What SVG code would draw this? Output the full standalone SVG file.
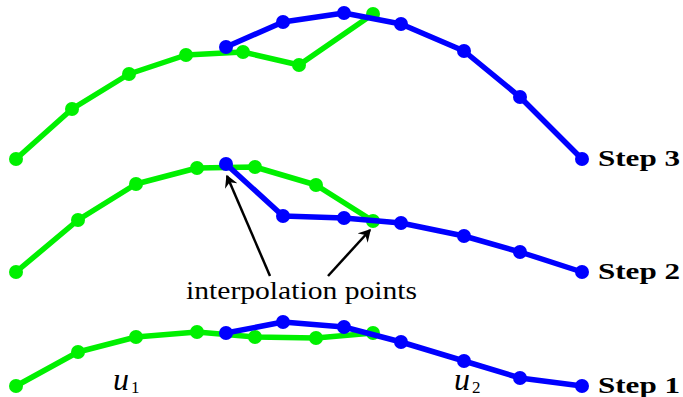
<svg xmlns="http://www.w3.org/2000/svg" width="683" height="397" viewBox="0 0 683 397">
<style>
.g{fill:none;stroke:#00f000;stroke-width:5.5;stroke-linejoin:round}
.b{fill:none;stroke:#0000ff;stroke-width:5.5;stroke-linejoin:round}
.gd{fill:#00f000}
.bd{fill:#0000ff}
.arr{fill:none;stroke:#000;stroke-width:2.5;marker-end:url(#ah)}
</style>
<defs>
<marker id="ah" viewBox="0 0 10 10" refX="8" refY="5" markerWidth="5.5" markerHeight="5.5" orient="auto" markerUnits="strokeWidth">
<path d="M0,0 L9,5 L0,10 L3,5 Z" fill="#000"/>
</marker>
</defs>
<g id="step3">
<g id="step3-green">
<polyline class="g" points="16,159 72,109 129,74 186,55 243,52 299,65 373,14"/>
<g class="gd"><circle cx="16" cy="159" r="7"/><circle cx="72" cy="109" r="7"/><circle cx="129" cy="74" r="7"/><circle cx="186" cy="55" r="7"/><circle cx="243" cy="52" r="7"/><circle cx="299" cy="65" r="7"/><circle cx="373" cy="14" r="7"/></g>
</g>
<g id="step3-blue">
<polyline class="b" points="226,47 283,22 344,13 401,24 464,51 520,97 582,159"/>
<g class="bd"><circle cx="226" cy="47" r="7"/><circle cx="283" cy="22" r="7"/><circle cx="344" cy="13" r="7"/><circle cx="401" cy="24" r="7"/><circle cx="464" cy="51" r="7"/><circle cx="520" cy="97" r="7"/><circle cx="582" cy="159" r="7"/></g>
</g>
<text font-family="Liberation Serif" font-weight="bold" font-size="24" x="598" y="166" textLength="82" lengthAdjust="spacingAndGlyphs">Step 3</text>
</g>
<g id="step2">
<g id="step2-green">
<polyline class="g" points="16,272 78,220 136,184 197,168 255,167 316,185 373,221"/>
<g class="gd"><circle cx="16" cy="272" r="7"/><circle cx="78" cy="220" r="7"/><circle cx="136" cy="184" r="7"/><circle cx="197" cy="168" r="7"/><circle cx="255" cy="167" r="7"/><circle cx="316" cy="185" r="7"/><circle cx="373" cy="221" r="7"/></g>
</g>
<g id="step2-blue">
<polyline class="b" points="226,164 283,216 344,218 401,223 464,236 520,252 582,272"/>
<g class="bd"><circle cx="226" cy="164" r="7"/><circle cx="283" cy="216" r="7"/><circle cx="344" cy="218" r="7"/><circle cx="401" cy="223" r="7"/><circle cx="464" cy="236" r="7"/><circle cx="520" cy="252" r="7"/><circle cx="582" cy="272" r="7"/></g>
</g>
<text font-family="Liberation Serif" font-weight="bold" font-size="24" x="598" y="279" textLength="82" lengthAdjust="spacingAndGlyphs">Step 2</text>
</g>
<g id="step1">
<g id="step1-green">
<polyline class="g" points="16,386 78,352 136,337 197,332 255,337 316,338 373,333"/>
<g class="gd"><circle cx="16" cy="386" r="7"/><circle cx="78" cy="352" r="7"/><circle cx="136" cy="337" r="7"/><circle cx="197" cy="332" r="7"/><circle cx="255" cy="337" r="7"/><circle cx="316" cy="338" r="7"/><circle cx="373" cy="333" r="7"/></g>
</g>
<g id="step1-blue">
<polyline class="b" points="226,333 283,322 344,327 401,342 464,361 520,378 582,386"/>
<g class="bd"><circle cx="226" cy="333" r="7"/><circle cx="283" cy="322" r="7"/><circle cx="344" cy="327" r="7"/><circle cx="401" cy="342" r="7"/><circle cx="464" cy="361" r="7"/><circle cx="520" cy="378" r="7"/><circle cx="582" cy="386" r="7"/></g>
</g>
<text font-family="Liberation Serif" font-weight="bold" font-size="24" x="598" y="393" textLength="82" lengthAdjust="spacingAndGlyphs">Step 1</text>
</g>
<g id="connectors">
<line class="arr" x1="270" y1="276" x2="227" y2="176"/>
<line class="arr" x1="328" y1="276" x2="370" y2="230"/>
</g>
<g id="annotation">
<text font-family="Liberation Serif" font-size="25" x="186" y="299" textLength="231" lengthAdjust="spacingAndGlyphs">interpolation points</text>
</g>
<g id="u1"><text font-family="Liberation Serif" font-style="italic" font-size="32" x="113" y="390">u</text><text font-family="Liberation Serif" font-size="17" x="131" y="393">1</text></g>
<g id="u2"><text font-family="Liberation Serif" font-style="italic" font-size="32" x="454" y="390">u</text><text font-family="Liberation Serif" font-size="17" x="472" y="393">2</text></g>
</svg>
